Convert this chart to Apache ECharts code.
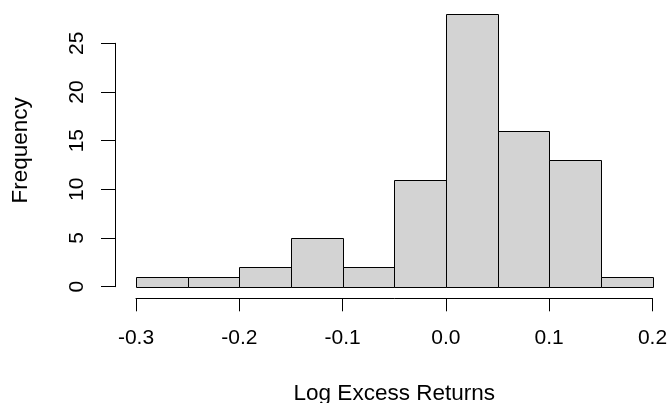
<!DOCTYPE html>
<html><head><meta charset="utf-8">
<script src="https://cdn.jsdelivr.net/npm/echarts@6/dist/echarts.min.js"></script>
<style>html,body{margin:0;padding:0;background:#fff}#c{width:667px;height:403px}</style>
</head><body><div id="c"></div>
<script>
// Histogram data (R hist): bin edges and counts
const binStarts = [-0.30, -0.25, -0.20, -0.15, -0.10, -0.05, 0.00, 0.05, 0.10, 0.15];
const binEnds   = [-0.25, -0.20, -0.15, -0.10, -0.05, 0.00, 0.05, 0.10, 0.15, 0.20];
const counts    = [1, 1, 2, 5, 2, 11, 28, 16, 13, 1];
const xTicks    = [-0.3, -0.2, -0.1, 0.0, 0.1, 0.2];
const yTicks    = [0, 5, 10, 15, 20, 25];
const xTitle = 'Log Excess Returns';
const yTitle = 'Frequency';

const FONT = "'Liberation Sans', Arial, sans-serif";
const FS = 21;
const FT = 22.5;
const chart = echarts.init(document.getElementById('c'), null, {renderer: 'canvas'});

const histData = counts.map((c, i) => [binStarts[i], binEnds[i], c]);

const option = {
  animation: false,
  backgroundColor: '#ffffff',
  textStyle: {fontFamily: FONT},
  grid: [
    {left: 136, right: 14.5, top: 14.1, bottom: 116.3, outerBoundsMode: 'none', containLabel: false},
    {left: 115, width: 10, top: 43.3, bottom: 116.3, outerBoundsMode: 'none', containLabel: false}
  ],
  xAxis: [
    {
      gridIndex: 0, type: 'value',
      min: xTicks[0], max: xTicks[xTicks.length - 1], interval: 0.1,
      offset: 11.6,
      axisLine: {show: true, onZero: false, lineStyle: {color: '#000', width: 1}},
      axisTick: {show: true, inside: false, length: 13, lineStyle: {color: '#000', width: 1}},
      axisLabel: {show: true, color: '#000', fontSize: FS, fontFamily: FONT, margin: 29,
        formatter: v => (Math.abs(v) < 1e-9 ? 0 : v).toFixed(1)},
      splitLine: {show: false},
      name: xTitle, nameLocation: 'middle', nameGap: 84,
      nameTextStyle: {color: '#000', fontSize: FT, fontFamily: FONT}
    },
    {gridIndex: 1, type: 'value', show: false, min: 0, max: 1}
  ],
  yAxis: [
    {
      gridIndex: 0, type: 'value', min: 0, max: 28,
      axisLine: {show: false}, axisTick: {show: false}, axisLabel: {show: false},
      splitLine: {show: false},
      name: yTitle, nameLocation: 'middle', nameGap: 104,
      nameTextStyle: {color: '#000', fontSize: FT, fontFamily: FONT}
    },
    {
      gridIndex: 1, type: 'value', min: yTicks[0], max: yTicks[yTicks.length - 1], interval: 5,
      position: 'left',
      axisLine: {show: true, onZero: false, lineStyle: {color: '#000', width: 1}},
      axisTick: {show: true, inside: false, length: 14, lineStyle: {color: '#000', width: 1}},
      axisLabel: {show: true, color: '#000', fontSize: FS, fontFamily: FONT, rotate: 90, margin: 27},
      splitLine: {show: false}
    }
  ],
  series: [{
    type: 'custom',
    xAxisIndex: 0, yAxisIndex: 0,
    data: histData,
    encode: {x: [0, 1], y: 2},
    renderItem: function (params, api) {
      const p0 = api.coord([api.value(0), 0]);
      const p1 = api.coord([api.value(1), api.value(2)]);
      const x0 = Math.round(p0[0]) + 0.5, x1 = Math.round(p1[0]) + 0.5;
      const y0 = Math.round(p0[1]) + 0.5, y1 = Math.round(p1[1]) + 0.5;
      return {
        type: 'rect',
        shape: {x: x0, y: y1, width: x1 - x0, height: y0 - y1},
        style: {fill: '#d3d3d3', stroke: '#000', lineWidth: 1}
      };
    }
  }]
};
chart.setOption(option);
</script></body></html>
